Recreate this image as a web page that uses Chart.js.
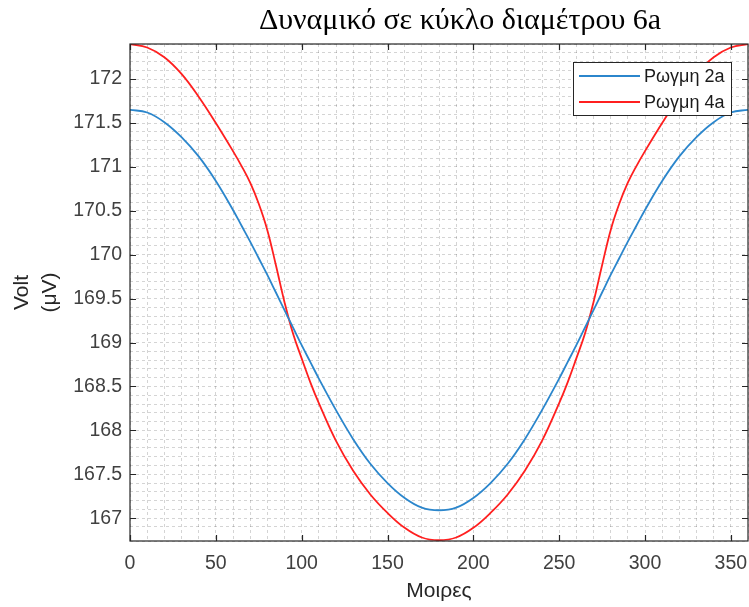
<!DOCTYPE html>
<html>
<head>
<meta charset="utf-8">
<script src="https://cdn.jsdelivr.net/npm/chart.js@4/dist/chart.umd.min.js"></script>
<style>
  body { margin: 0; background: #fff; }
  #wrap { width: 749px; height: 607px; }
</style>
</head>
<body>
<div id="wrap"><canvas id="myChart" width="749" height="607"></canvas></div>
<script>
// degrees around the circle
const degrees = [0, 10, 20, 30, 40, 50, 60, 65, 70, 75, 80, 85, 90, 95, 100, 105, 110, 120, 130, 140, 150, 160, 170, 180,
                 190, 200, 210, 220, 230, 240, 250, 255, 260, 265, 270, 275, 280, 285, 290, 295, 300, 310, 320, 330, 340, 350, 360];
// crack 2a (uV)
const crack2a = [171.65, 171.62, 171.51, 171.34, 171.12, 170.84, 170.51, 170.33, 170.15, 169.96, 169.77, 169.57, 169.37, 169.17, 168.97, 168.78,
                 168.59, 168.23, 167.90, 167.62, 167.40, 167.23, 167.12, 167.09,
                 167.12, 167.23, 167.40, 167.62, 167.90, 168.23, 168.59, 168.78, 168.97, 169.17, 169.37, 169.57, 169.77, 169.96,
                 170.15, 170.33, 170.51, 170.84, 171.12, 171.34, 171.51, 171.62, 171.65];
// crack 4a (uV)
const crack4a = [172.40, 172.36, 172.25, 172.06, 171.80, 171.50, 171.18, 171.01, 170.82, 170.58, 170.28, 169.88, 169.46, 169.10, 168.82, 168.55,
                 168.31, 167.88, 167.54, 167.27, 167.06, 166.89, 166.78, 166.75,
                 166.78, 166.89, 167.06, 167.27, 167.54, 167.88, 168.31, 168.55, 168.82, 169.10, 169.46, 169.88, 170.28, 170.58,
                 170.82, 171.01, 171.18, 171.50, 171.80, 172.06, 172.25, 172.36, 172.40];
const xMajorTicks = [0, 50, 100, 150, 200, 250, 300, 350];
const yMajorTicks = [167, 167.5, 168, 168.5, 169, 169.5, 170, 170.5, 171, 171.5, 172];

Chart.defaults.font.family = "'Liberation Sans', Arial, sans-serif";

function isMajor(list, v) {
    return list.some(t => Math.abs(t - v) < 1e-6);
}

// MATLAB-like box, inward ticks, title and legend
const matlabLook = {
    id: 'matlabLook',
    afterDatasetsDraw(chart) {
        const ctx = chart.ctx;
        const a = chart.chartArea;
        const xs = chart.scales.x, ys = chart.scales.y;
        ctx.save();
        ctx.strokeStyle = '#262626';
        ctx.lineWidth = 1.2;
        ctx.setLineDash([]);
        ctx.strokeRect(a.left, a.top, a.right - a.left, a.bottom - a.top);
        ctx.beginPath();
        xMajorTicks.forEach(t => {
            const px = Math.round(xs.getPixelForValue(t)) + 0.5;
            ctx.moveTo(px, a.bottom); ctx.lineTo(px, a.bottom - 6);
            ctx.moveTo(px, a.top); ctx.lineTo(px, a.top + 6);
        });
        yMajorTicks.forEach(t => {
            const py = Math.round(ys.getPixelForValue(t)) + 0.5;
            ctx.moveTo(a.left, py); ctx.lineTo(a.left + 6, py);
            ctx.moveTo(a.right, py); ctx.lineTo(a.right - 6, py);
        });
        ctx.stroke();

        // legend
        const bw = 158, bh = 53;
        const bx = a.right - 17 - bw, by = a.top + 18;
        ctx.fillStyle = '#fff';
        ctx.fillRect(bx, by, bw, bh);
        ctx.strokeStyle = '#262626';
        ctx.lineWidth = 1;
        ctx.strokeRect(bx + 0.5, by + 0.5, bw, bh);
        ctx.font = "18px 'Liberation Sans', Arial, sans-serif";
        ctx.textBaseline = 'middle';
        ctx.textAlign = 'left';
        chart.data.datasets.forEach((ds, i) => {
            const ly = by + 14 + i * 26;
            ctx.strokeStyle = ds.borderColor;
            ctx.lineWidth = 1.8;
            ctx.beginPath();
            ctx.moveTo(bx + 6, ly); ctx.lineTo(bx + 67, ly);
            ctx.stroke();
            ctx.fillStyle = '#1a1a1a';
            ctx.fillText(ds.label, bx + 71, ly + 1);
        });

        // title
        ctx.fillStyle = '#000';
        ctx.font = "30px 'Liberation Serif', 'Times New Roman', serif";
        ctx.textAlign = 'center';
        ctx.textBaseline = 'alphabetic';
        ctx.fillText('Δυναμικό σε κύκλο διαμέτρου 6a', 460, 29);
        ctx.restore();
    }
};

const ctx = document.getElementById('myChart').getContext('2d');
const myChart = new Chart(ctx, {
    type: 'line',
    data: {
        datasets: [{
            label: 'Ρωγμη 2a',
            data: degrees.map((d, i) => ({x: d, y: crack2a[i]})),
            borderColor: '#2b86cc',
            borderWidth: 1.8,
            pointRadius: 0,
            tension: 0.4
        }, {
            label: 'Ρωγμη 4a',
            data: degrees.map((d, i) => ({x: d, y: crack4a[i]})),
            borderColor: '#ff1f1f',
            borderWidth: 1.8,
            pointRadius: 0,
            tension: 0.4
        }]
    },
    options: {
        responsive: false,
        animation: false,
        layout: {
            padding: {left: 0, right: 1, top: 44, bottom: 0}
        },
        scales: {
            x: {
                type: 'linear',
                min: 0,
                max: 360,
                afterFit: scale => {
                    scale.height = 66;
                    scale.paddingLeft = 0;
                    scale.paddingRight = 0;
                },
                ticks: {
                    stepSize: 10,
                    autoSkip: false,
                    maxRotation: 0,
                    padding: 11,
                    color: '#404040',
                    font: {size: 19.5},
                    callback: v => isMajor(xMajorTicks, v) ? String(Math.round(v)) : ''
                },
                grid: {
                    color: 'rgba(0,0,0,0.17)',
                    lineWidth: 1,
                    drawTicks: false
                },
                border: {display: false, dash: [3, 3]},
                title: {
                    display: true,
                    text: 'Μοιρες',
                    color: '#262626',
                    font: {size: 21},
                    padding: {top: 0, bottom: 3}
                }
            },
            y: {
                type: 'linear',
                min: 166.74,
                max: 172.40,
                afterFit: scale => {
                    scale.width = 130;
                    scale.paddingTop = 0;
                    scale.paddingBottom = 0;
                },
                ticks: {
                    stepSize: 0.1,
                    autoSkip: false,
                    padding: 8,
                    color: '#404040',
                    font: {size: 19.5},
                    callback: v => isMajor(yMajorTicks, v) ? String(Math.round(v * 10) / 10) : ''
                },
                grid: {
                    color: 'rgba(0,0,0,0.17)',
                    lineWidth: 1,
                    drawTicks: false
                },
                border: {display: false, dash: [3, 3]},
                title: {
                    display: true,
                    text: ['Volt', '(μV)'],
                    color: '#262626',
                    font: {size: 21, lineHeight: 1.35},
                    padding: {top: 8, bottom: 0}
                }
            }
        },
        plugins: {
            legend: {display: false},
            title: {display: false},
            tooltip: {enabled: false}
        }
    },
    plugins: [matlabLook]
});
</script>
</body>
</html>
